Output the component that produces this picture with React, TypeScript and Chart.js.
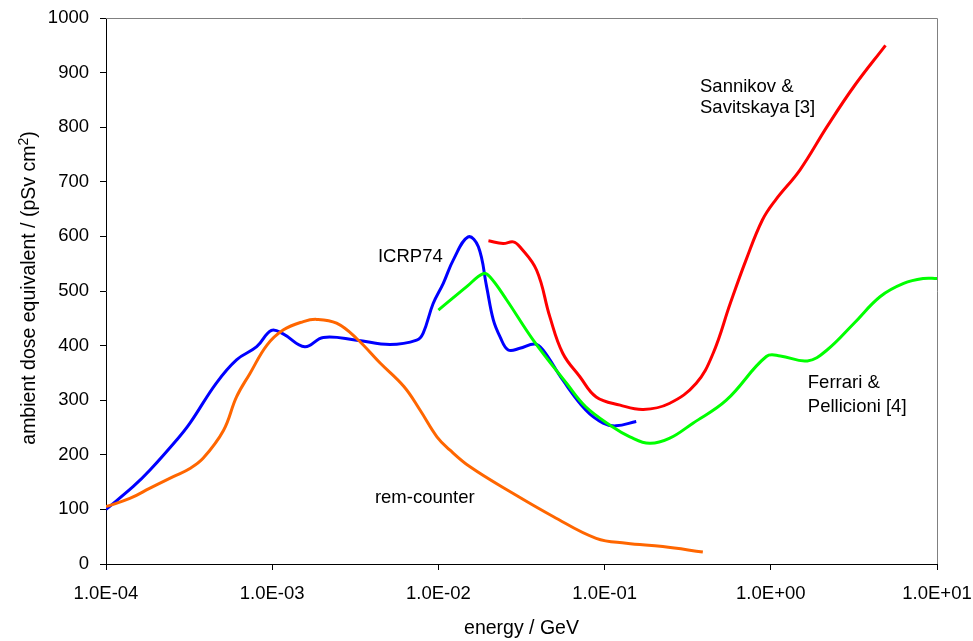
import React, { useEffect, useRef } from "react";
import { Chart, registerables } from "chart.js";

Chart.register(...registerables);

// ICRP74 (blue)
const icrpX = [1e-4, 1.46e-4, 1.84e-4, 2.66e-4, 3.2e-4, 4.6e-4, 6.1e-4, 8.07e-4, 9.9e-4, 1.17e-3, 1.57e-3, 2.03e-3, 3.22e-3, 5.1e-3, 7.4e-3, 8.1e-3, 9.3e-3, 1.07e-2, 1.23e-2, 1.51e-2, 1.74e-2, 1.95e-2, 2.14e-2, 2.35e-2, 2.63e-2, 3.09e-2, 3.8e-2, 4.26e-2, 5.6e-2, 7.7e-2, 9.8e-2, 1.17e-1, 1.55e-1];
const icrpY = [100, 142, 172, 227, 258, 331, 374, 398, 428, 421, 398, 415, 410, 402, 410, 423, 477, 514, 557, 599, 581, 508, 447, 416, 392, 395, 403, 392, 337, 282, 258, 253, 261];

// Ferrari & Pellicioni (green)
const ferrariX = [1.0e-2, 1.48e-2, 1.86e-2, 2.04e-2, 2.57e-2, 3.72e-2, 5.9e-2, 7.7e-2, 1.12e-1, 1.42e-1, 1.86e-1, 2.45e-1, 3.4e-1, 5.4e-1, 9.4e-1, 1.14, 1.66, 2.18, 3.17, 4.56, 6.3, 8.3, 10];
const ferrariY = [465, 508, 532, 526, 484, 410, 331, 288, 251, 233, 221, 230, 258, 300, 380, 381, 372, 392, 441, 490, 514, 523, 523];

// Sannikov & Savitskaya (red)
const sannikovX = [2.0e-2, 2.45e-2, 2.82e-2, 3.09e-2, 3.9e-2, 4.68e-2, 5.6e-2, 7.1e-2, 8.9e-2, 1.24e-1, 1.71e-1, 2.45e-1, 3.56e-1, 4.5e-1, 5.7e-1, 7.1e-1, 8.9e-1, 1.07, 1.5, 2.18, 3.17, 4.9];
const sannikovY = [592, 587, 590, 581, 538, 453, 386, 343, 306, 291, 283, 294, 331, 386, 477, 557, 630, 667, 722, 801, 875, 950];

// rem-counter (orange)
const remX = [1e-4, 1.39e-4, 1.84e-4, 2.54e-4, 3.2e-4, 3.85e-4, 5.1e-4, 6.1e-4, 7.35e-4, 9.3e-4, 1.17e-3, 1.54e-3, 1.85e-3, 2.44e-3, 3.22e-3, 4.46e-3, 6.2e-3, 7.75e-3, 9.8e-3, 1.17e-2, 1.55e-2, 2.82e-2, 4.9e-2, 8.9e-2, 1.35e-1, 2.24e-1, 3.9e-1];
const remY = [105, 120, 139, 160, 175, 194, 245, 306, 349, 401, 429, 444, 448, 441, 413, 368, 325, 282, 233, 209, 178, 129, 87, 47, 38, 32, 22];

// Axis ticks
const xTickValues = [1e-4, 1e-3, 1e-2, 1e-1, 1, 10];
const xTickLabels = ["1.0E-04", "1.0E-03", "1.0E-02", "1.0E-01", "1.0E+00", "1.0E+01"];

// Axis titles
const xTitle = "energy / GeV";
const yTitleMain = "ambient dose equivalent / (pSv cm";
const yTitleSup = "2";
const yTitleEnd = ")";

// In-chart labels (anchored in data coordinates: left edge, baseline)
const noteTexts = ["ICRP74", "rem-counter", "Sannikov &", "Savitskaya [3]", "Ferrari &", "Pellicioni [4]"];
const noteX = [4.33e-3, 4.15e-3, 0.375, 0.375, 1.67, 1.67];
const noteY = [553, 112, 864, 826, 322, 278];

const FONT = "Arial, 'Liberation Sans', sans-serif";

const pts = (xs: number[], ys: number[]) => xs.map((x, i) => ({ x, y: ys[i] }));

export default function App() {
  const ref = useRef<HTMLCanvasElement | null>(null);

  useEffect(() => {
    if (!ref.current) return;

    const frame = {
      id: "frameAndNotes",
      afterDatasetsDraw(chart: any) {
        const { ctx, chartArea, scales } = chart;
        ctx.save();
        // top/right frame
        ctx.strokeStyle = "#808080";
        ctx.lineWidth = 1;
        ctx.beginPath();
        ctx.moveTo(chartArea.left, chartArea.top + 0.5);
        ctx.lineTo(chartArea.right + 0.5, chartArea.top + 0.5);
        ctx.lineTo(chartArea.right + 0.5, chartArea.bottom);
        ctx.stroke();
        // notes
        ctx.fillStyle = "#000";
        ctx.font = `18.5px ${FONT}`;
        ctx.textAlign = "left";
        ctx.textBaseline = "alphabetic";
        noteTexts.forEach((t, i) => {
          ctx.fillText(t, scales.x.getPixelForValue(noteX[i]), scales.y.getPixelForValue(noteY[i]));
        });
        // y title with superscript
        const mainFont = `19.5px ${FONT}`;
        const supFont = `14px ${FONT}`;
        ctx.font = mainFont;
        const wMain = ctx.measureText(yTitleMain).width;
        const wEnd = ctx.measureText(yTitleEnd).width;
        ctx.font = supFont;
        const wSup = ctx.measureText(yTitleSup).width;
        const total = wMain + wSup + wEnd;
        const cy = (chartArea.top + chartArea.bottom) / 2 - 3;
        ctx.translate(35, cy);
        ctx.rotate(-Math.PI / 2);
        ctx.textAlign = "left";
        ctx.textBaseline = "alphabetic";
        let x0 = -total / 2;
        ctx.font = mainFont;
        ctx.fillText(yTitleMain, x0, 0);
        x0 += wMain;
        ctx.font = supFont;
        ctx.fillText(yTitleSup, x0, -7);
        x0 += wSup;
        ctx.font = mainFont;
        ctx.fillText(yTitleEnd, x0, 0);
        ctx.restore();
      },
    };

    const common = {
      borderWidth: 3,
      pointRadius: 0,
      fill: false,
      tension: 0.4,
    };

    const chart = new Chart(ref.current, {
      type: "line",
      data: {
        datasets: [
          { ...common, label: "rem-counter", data: pts(remX, remY), borderColor: "#FF6600" },
          { ...common, label: "Sannikov & Savitskaya [3]", data: pts(sannikovX, sannikovY), borderColor: "#FF0000" },
          { ...common, label: "Ferrari & Pellicioni [4]", data: pts(ferrariX, ferrariY), borderColor: "#00FF00" },
          { ...common, label: "ICRP74", data: pts(icrpX, icrpY), borderColor: "#0000FF" },
        ],
      },
      options: {
        responsive: false,
        animation: false,
        parsing: false as any,
        layout: { padding: { left: 0, top: 18, right: 36, bottom: 0 } },
        plugins: { legend: { display: false }, tooltip: { enabled: false } },
        scales: {
          x: {
            type: "logarithmic",
            min: 1e-4,
            max: 10,
            afterBuildTicks: (scale: any) => {
              scale.ticks = xTickValues.map((v) => ({ value: v }));
            },
            afterFit: (scale: any) => {
              scale.height = 77;
              scale.paddingLeft = 0;
              scale.paddingRight = 0;
            },
            ticks: {
              autoSkip: false,
              maxRotation: 0,
              padding: 13,
              color: "#000",
              font: { family: FONT, size: 18.5 },
              callback: (v: any) => {
                const i = xTickValues.findIndex((t) => Math.abs(Math.log10(t) - Math.log10(Number(v))) < 1e-6);
                return i >= 0 ? xTickLabels[i] : "";
              },
            },
            grid: { display: true, drawOnChartArea: false, drawTicks: true, tickLength: 6, color: "#000" },
            border: { display: true, color: "#000", width: 1 },
            title: {
              display: true,
              text: xTitle,
              color: "#000",
              font: { family: FONT, size: 19.5 },
              padding: { top: 0, bottom: 1 },
            },
          },
          y: {
            type: "linear",
            min: 0,
            max: 1000,
            afterFit: (scale: any) => {
              scale.width = 106;
              scale.paddingTop = 0;
              scale.paddingBottom = 0;
            },
            ticks: {
              stepSize: 100,
              padding: 11,
              color: "#000",
              font: { family: FONT, size: 18.5 },
              callback: (v: any) => String(v),
            },
            grid: { display: true, drawOnChartArea: false, drawTicks: true, tickLength: 6, color: "#000" },
            border: { display: true, color: "#000", width: 1 },
            title: { display: false },
          },
        },
      },
      plugins: [frame],
    });

    return () => chart.destroy();
  }, []);

  return (
    <div style={{ position: "fixed", left: 0, top: 0, width: 973, height: 641, background: "#fff" }}>
      <canvas ref={ref} width={973} height={641} />
    </div>
  );
}
